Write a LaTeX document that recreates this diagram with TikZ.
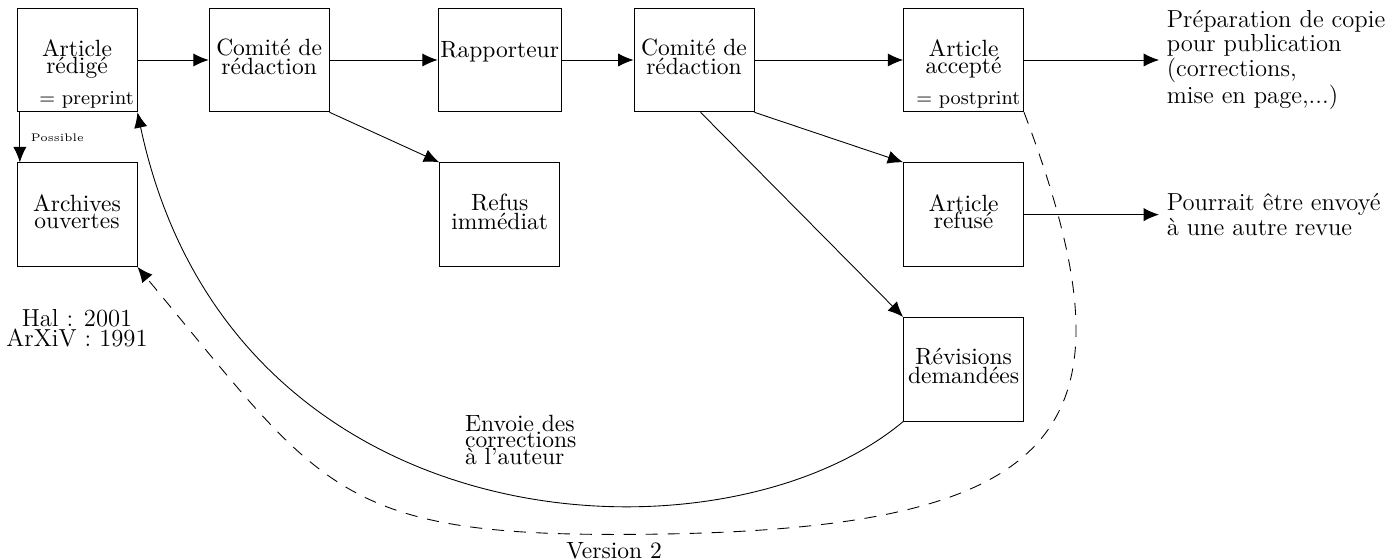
\documentclass[tikz,border=0pt]{standalone}
\usepackage{tikz}
\newcommand{\boxwidth}{1.92cm}
\newcommand{\boxheight}{1.66cm}
\usetikzlibrary{arrows.meta,calc,positioning}
\tikzset{
  >={Latex[length=7pt,width=6pt]},
  font=\fontsize{10.7pt}{7.7pt}\selectfont,
  node distance=0.8cm,
  rect/.style={draw,shape=rectangle,minimum width=\boxwidth,minimum height=\boxheight,inner sep=1pt,align=center,text depth=3pt},
  note/.style={font=\fontsize{11.2pt}{8.2pt}\selectfont},
  tag/.style={font=\small,inner sep=1.5pt},
  line/.style={draw,->},
  back/.style={draw,->,dash pattern=on 5.5pt off 4.5pt},
}
\begin{document}
\begin{tikzpicture}
  \useasboundingbox (-1.232,-8.0) rectangle (21.168,0.96);
  % first row
  \node (redige) [rect,label={[tag,anchor=south east]south east:= preprint}] {Article\\rédigé};
  \node (comite1) [rect,right=1.14cm of redige] {Comité de\\rédaction};
  \node (rapport) [rect,right=1.73cm of comite1,text depth=9.9pt] {Rapporteur};
  \node (comite2) [rect,right=1.15cm of rapport] {Comité de\\rédaction};
  \node (accepte) [rect,right=2.38cm of comite2,label={[tag,anchor=south east]south east:= postprint}] {Article\\accepté};
  % lower boxes
  \node (archives) [rect,below=of redige] {Archives\\ouvertes};
  \node (refus) [rect,below=of rapport] {Refus\\immédiat};
  \node (refuse) [rect,below=of accepte] {Article\\refusé};
  \node (revisions) [rect,below=of refuse] {Révisions\\demandées};
  % free texts
  \node (prep) [note,align=left,right=2.16cm of accepte] {Préparation de copie\\pour publication\\(corrections,\\mise en page,...)};
  \node (pourrait) [note,align=left,right=2.16cm of refuse] {Pourrait être envoyé\\à une autre revue};
  \node (hal) [note,align=center,below=0.55cm of archives] {Hal : 2001\\ArXiV : 1991};
  \node (envoie) [align=left,anchor=north west] at ($(refus.south west)+(0.29,-2.24)$) {Envoie des\\corrections\\à l'auteur};
  \coordinate (bas) at ($(refus.south)+(1.83,-4.28)$);
  % connectors
  \path [line] (redige) -- (comite1);
  \path [line] (comite1) -- (rapport);
  \path [line] (rapport) -- (comite2);
  \path [line] (comite2) -- (accepte);
  \path [line] (comite1.south east) -- (refus.north west);
  \path [line] (comite2.south east) -- (refuse.north west);
  \path [line] ([xshift=3pt]comite2.south) -- (revisions.north west);
  \path [line] ([xshift=1.5pt]redige.south west) -- ([xshift=1.5pt]archives.north west) node[midway,right=1.5pt,font=\tiny]{Possible};
  \path [line] (accepte) -- (prep);
  \path [line] (refuse) -- (pourrait);
  \path [line] (revisions.south west) .. controls +(-2.88,-2.42) and +(1.49,-7.01) .. (redige.south east);
  \path [back] (accepte.south east) .. controls +(1.99,-5.24) and +(7.2,0) .. (bas) node[below,inner sep=1pt,yshift=-2.5pt]{Version 2}
    .. controls +(-4.48,0) and +(2.87,-3.45) .. (archives.south east);
\end{tikzpicture}
\end{document}
